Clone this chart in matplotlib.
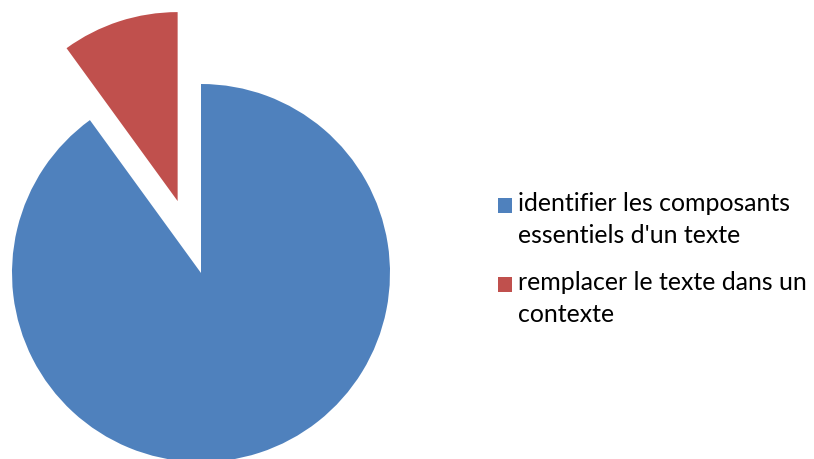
import matplotlib
matplotlib.use("Agg")
import matplotlib.pyplot as plt
from matplotlib.patches import Rectangle

labels = ["identifier les composants\nessentiels d'un texte",
          "remplacer le texte dans un\ncontexte"]
values = [90, 10]
colors = ["#4F81BD", "#C0504D"]
explode = [0, 0.4]

W, H = 814, 459
fig = plt.figure(figsize=(W / 100, H / 100), dpi=100)
cx, cy, r = 201, 273, 189
ax = fig.add_axes([(cx - r) / W, (H - cy - r) / H, 2 * r / W, 2 * r / H])
wedges, _ = ax.pie(values, colors=colors, explode=explode, startangle=90,
                   counterclock=False, radius=1,
                   wedgeprops=dict(linewidth=0, clip_on=False))
ax.set_xlim(-1, 1)
ax.set_ylim(-1, 1)
ax.set_aspect("auto")
ax.axis("off")

# legend drawn manually (marker aligned with first text line)
baselines = [213, 292]
for i, (lab, col) in enumerate(zip(labels, colors)):
    b = baselines[i]
    fig.patches.append(Rectangle((498 / W, 1 - b / H), 14 / W, 15 / H,
                                 transform=fig.transFigure, facecolor=col,
                                 edgecolor="none"))
    fig.text(518 / W, 1 - (b + 30) / H, lab, ha="left", va="baseline",
             family="Lato", fontsize=17.9, color="#000000", linespacing=1.45)

fig.savefig("out.png", dpi=100)
